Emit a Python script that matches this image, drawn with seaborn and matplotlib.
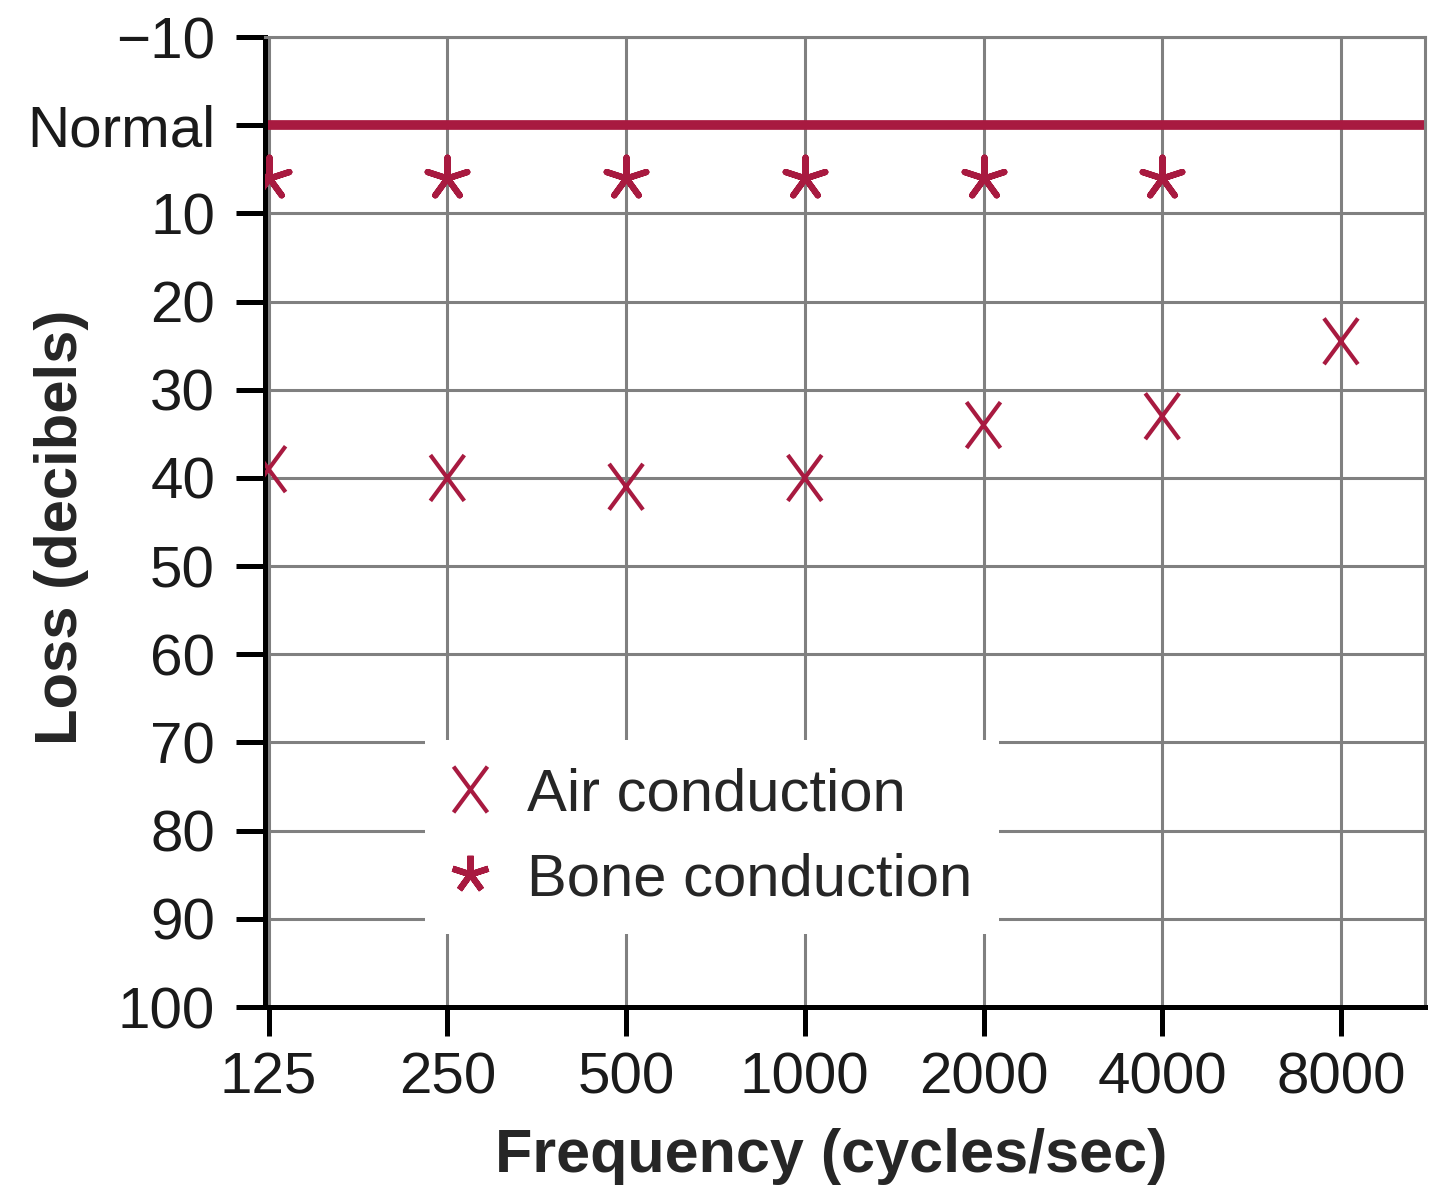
import matplotlib
matplotlib.use("Agg")
import matplotlib.pyplot as plt
import seaborn as sns
import pandas as pd
from matplotlib.path import Path
from matplotlib.lines import Line2D

# data
frequencies = ["125", "250", "500", "1000", "2000", "4000", "8000"]
air_loss = [39, 40, 41, 40, 34, 33, 24.5]
bone_freqs = ["125", "250", "500", "1000", "2000", "4000"]
bone_loss = [6, 6, 6, 6, 6, 6]
normal_level = 0
y_ticks = [-10, 0, 10, 20, 30, 40, 50, 60, 70, 80, 90, 100]
y_tick_labels = ["\u221210", "Normal", "10", "20", "30", "40", "50",
                 "60", "70", "80", "90", "100"]

crimson = "#a81a40"
grid_grey = "#808080"

sns.set_style("white")
plt.rcParams["font.family"] = ["Liberation Sans", "DejaVu Sans"]

air_df = pd.DataFrame({"freq": frequencies, "loss": air_loss})
bone_df = pd.DataFrame({"freq": bone_freqs, "loss": bone_loss})

# tall letter-like X marker
x_marker = Path([(-0.37, -0.5), (0.37, 0.5), (-0.37, 0.5), (0.37, -0.5)],
                [Path.MOVETO, Path.LINETO, Path.MOVETO, Path.LINETO])
star_marker = (5, 2, 0)

fig = plt.figure(figsize=(14.35, 11.96), dpi=100)
ax = fig.add_axes([0.1847, 0.158, 0.8083, 0.811])

ax.axhline(normal_level, color=crimson, linewidth=7, zorder=2)
sns.scatterplot(data=air_df, x="freq", y="loss", marker=x_marker, s=33 ** 2,
                facecolor="none", edgecolor=crimson, linewidth=3, ax=ax, zorder=3)
sns.scatterplot(data=bone_df, x="freq", y="loss", marker=star_marker, s=30 ** 2,
                facecolor=crimson, edgecolor=crimson, linewidth=4.5, ax=ax, zorder=3)

ax.set_xlim(-0.02, 6.47)
ax.set_ylim(100, -10)
ax.set_yticks(y_ticks)
ax.set_yticklabels(y_tick_labels)

ax.set_axisbelow(True)
ax.grid(True, color=grid_grey, linewidth=2.2)
for side in ["top", "right"]:
    ax.spines[side].set_color(grid_grey)
    ax.spines[side].set_linewidth(2.2)
for side in ["left", "bottom"]:
    ax.spines[side].set_color("black")
    ax.spines[side].set_linewidth(3.6)

ax.tick_params(axis="both", which="major", direction="out", length=21, width=3.6,
               color="black", labelsize=42, labelcolor="#1a1a1a")
ax.tick_params(axis="y", pad=15, left=True)
ax.tick_params(axis="x", pad=11, bottom=True)

ax.set_xlabel("Frequency (cycles/sec)", fontsize=44, fontweight="bold")
ax.set_ylabel("Loss (decibels)", fontsize=43, fontweight="bold")
ax.xaxis.set_label_coords(0.488, -0.125)
ax.yaxis.set_label_coords(-0.152, 0.495)

handles = [
    Line2D([], [], linestyle="", marker=x_marker, markersize=33,
           markerfacecolor="none", markeredgecolor=crimson, markeredgewidth=3,
           label="Air conduction"),
    Line2D([], [], linestyle="", marker=star_marker, markersize=27,
           markerfacecolor=crimson, markeredgecolor=crimson, markeredgewidth=4.5,
           label="Bone conduction"),
]
leg = ax.legend(handles=handles, loc="upper left", bbox_to_anchor=(0.138, 0.275),
                borderaxespad=0, fontsize=43, frameon=True, fancybox=False,
                framealpha=1, edgecolor="white", handlelength=0.6,
                handletextpad=0.65, labelspacing=0.5, borderpad=0.45)
leg.get_frame().set_linewidth(0)

fig.savefig("out.png", dpi=100, facecolor="white")
